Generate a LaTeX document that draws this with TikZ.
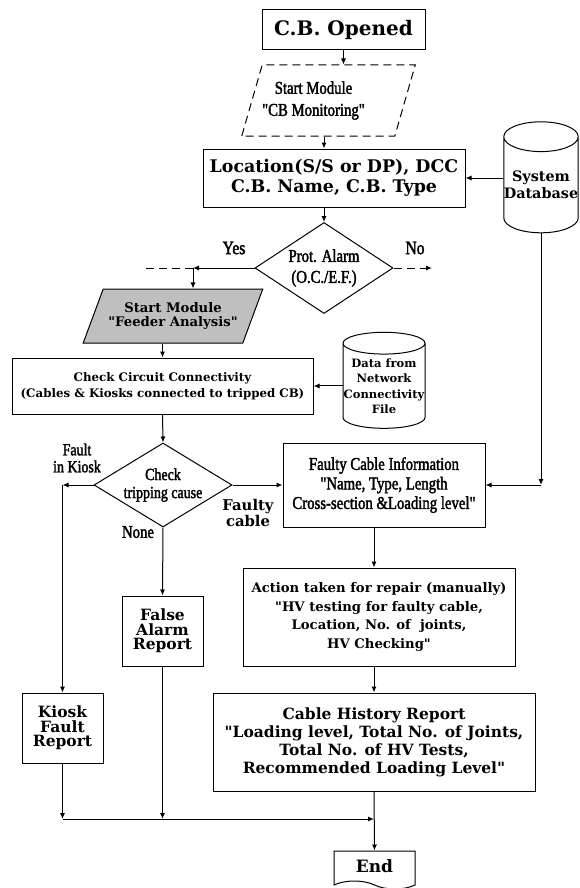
\documentclass[tikz,border=0pt]{standalone}
\usepackage{fontspec}
\setmainfont{DejaVu Serif}[Ligatures=TeXOff]
\newfontfamily\narrowrm[FakeStretch=0.82,FakeBold=2]{Liberation Serif}
\usetikzlibrary{shapes.geometric,shapes.symbols,arrows.meta}
\definecolor{feedergray}{gray}{0.75}
\newcommand\fsz[2]{\fontsize{#1}{#2}\selectfont}

\begin{document}
\begin{tikzpicture}[x=1pt, y=-1pt, line width=1pt, >={Latex[length=6pt,width=5pt]},
  box/.style={draw, rectangle, align=center, inner sep=0pt},
  module/.style={draw, shape=trapezium, trapezium stretches=true, align=center, inner sep=0pt},
  decide/.style={draw, shape=diamond, align=center, inner sep=0pt},
  store/.style={draw, shape=cylinder, shape border rotate=90, align=center, inner sep=0pt},
  endbox/.style={draw, shape=tape, tape bend top=none, tape bend bottom=out and in, tape bend height=8pt, inner sep=0pt},
  longdash/.style={dash pattern=on 8pt off 5pt}]

\useasboundingbox (0,0) rectangle (579,888);

\node[box, minimum width=163, minimum height=40, font=\bfseries\fsz{20}{22}] (opened) at (343.5,30) {C.B. Opened};
\node[module, longdash, minimum width=173, minimum height=71, trapezium left angle=62, trapezium right angle=118, font=\narrowrm\fsz{18}{22}] (cbmon) at (328.5,100.5) {Start Module\hspace*{30pt}\\"CB Monitoring"\hspace*{30pt}};
\node[box, minimum width=262, minimum height=58, font=\bfseries\fsz{17.4}{20}] (loc) at (334,178) {Location(S/S or DP), DCC\\C.B. Name, C.B. Type};
\node[store, minimum width=72, minimum height=111, aspect=0.4, font=\bfseries\fsz{14.4}{17}] (sysdb) at (541,185) {System\\Database};

\node[decide, minimum width=138, minimum height=91, aspect=1.5, font=\narrowrm\fsz{18}{21}] (alarm) at (324,268) {Prot. Alarm\\(O.C./E.F.)};
\node[font=\narrowrm\fsz{19}{20}] (yes) at (234,248) {Yes};
\node[font=\narrowrm\fsz{19}{20}] (no) at (415,248) {No};
\coordinate (yesj) at (193,268);
\coordinate (yesend) at (142,268);
\coordinate (noend) at (432,268);

\node[module, fill=feedergray, minimum width=180, minimum height=54, trapezium left angle=56, trapezium right angle=124, font=\bfseries\fsz{13.2}{14.5}] (feeder) at (173,316) {Start Module\\"Feeder Analysis"};
\node[box, minimum width=301, minimum height=56, font=\bfseries\fsz{11.8}{16}] (check) at (162.5,386) {Check Circuit Connectivity\\(Cables \& Kiosks connected to tripped CB)};
\node[store, minimum width=82, minimum height=96, aspect=0.27, font=\bfseries\fsz{11.5}{15.5}] (data) at (384,386) {Data from\\Network\\Connectivity\\File};

\node[decide, minimum width=138, minimum height=84, aspect=1.64, font=\narrowrm\fsz{17}{18}] (trip) at (163,485) {Check\\tripping cause};
\node[align=center, font=\narrowrm\fsz{17}{17}] (kiosklbl) at (77,458) {Fault\\in Kiosk};
\node[align=center, font=\bfseries\fsz{14.8}{13}] (cablelbl) at (248,513) {Faulty\\cable};
\node[font=\narrowrm\fsz{18}{18}] (nonelbl) at (138,532) {None};
\coordinate (kioskj) at (62.5,485);

\node[box, minimum width=202, minimum height=84, font=\narrowrm\fsz{18}{19.5}] (faulty) at (384,485) {Faulty Cable Information\\"Name, Type, Length\\Cross-section \&Loading level"};
\node[box, minimum width=272, minimum height=98, font=\bfseries\fsz{13.2}{18.5}] (action) at (379,617) {Action taken for repair (manually)\\"HV testing for faulty cable,\\Location, No. of~ joints,\\HV Checking"};
\node[box, minimum width=81, minimum height=70, font=\bfseries\fsz{15.5}{14.5}] (falsealarm) at (162.5,631) {False\\Alarm\\Report};
\node[box, minimum width=81, minimum height=70, font=\bfseries\fsz{15.5}{14.5}] (kiosk) at (62.5,728) {Kiosk\\Fault\\Report};
\node[box, minimum width=322, minimum height=98, font=\bfseries\fsz{15.5}{18}] (hist) at (374,742) {Cable History Report\\"Loading level, Total No. of Joints,\\Total No. of HV Tests,\\Recommended Loading Level"};
\node[endbox, minimum width=81, minimum height=38, font=\bfseries\fsz{17}{18}] (fin) at (374.5,866) {End};
\coordinate (kioskb) at (62.5,819);
\coordinate (falseb) at (162.5,819);
\coordinate (dbj) at (541,485);

\draw[->] (opened.south) -- (opened.south |- cbmon.north);
\draw[->] (cbmon.south -| alarm.north) -- (alarm.north |- loc.north);
\draw[->] (alarm.north |- loc.south) -- (alarm.north);
\draw[->] (sysdb.west |- loc.east) -- (loc.east);
\draw[->] (alarm.west) -- (yesj);
\draw[longdash] (yesj) -- (yesend);
\draw[->] (yesj) -- (yesj |- feeder.north);
\draw[->, longdash] (alarm.east) -- (noend);
\draw[->] (feeder.south -| check.north) -- (check.north);
\draw[->] (data.west) -- (data.west -| check.east);
\draw[->] (check.south) -- (trip.north);
\draw[->] (trip.west) -- (kioskj);
\draw[->] (kioskj) -- (kiosk.north);
\draw[->] (trip.east) -- (trip.east -| faulty.west);
\draw[->] (trip.south) -- (falsealarm.north);
\draw[->] (sysdb.south) -- (dbj);
\draw[->] (dbj) -- (faulty.east);
\draw[->] (faulty.south -| hist.north) -- (action.north -| hist.north);
\draw[->] (action.south -| hist.north) -- (hist.north);
\draw[->] (kiosk.south) -- (kioskb);
\draw[->] (falsealarm.south) -- (falseb);
\draw[->] (kioskb) -- (kioskb -| hist.south);
\draw[->] (hist.south) -- (fin.north);

\end{tikzpicture}
\end{document}
